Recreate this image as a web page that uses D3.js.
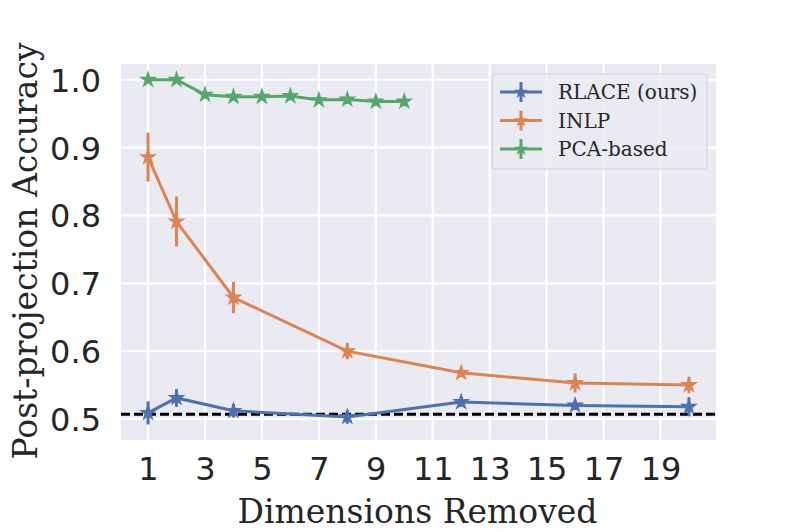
<!DOCTYPE html>
<html>
<head>
<meta charset="utf-8">
<script src="https://cdn.jsdelivr.net/npm/d3@7"></script>
<style>
  body { margin: 0; background: #fff; }
  .tick text { font-family: "DejaVu Sans", sans-serif; }
</style>
</head>
<body>
<div id="chart"></div>
<script>
// data
var seriesNames = ["RLACE (ours)", "INLP", "PCA-based"];
var seriesColors = ["#4C72B0", "#DD8452", "#55A868"];

var rlaceX = [1, 2, 4, 8, 12, 16, 20];
var rlaceY = [0.509, 0.531, 0.512, 0.503, 0.525, 0.520, 0.518];
var rlaceErr = [0.017, 0.013, 0.010, 0.010, 0.007, 0.006, 0.014];

var inlpX = [1, 2, 4, 8, 12, 16, 20];
var inlpY = [0.886, 0.791, 0.679, 0.600, 0.568, 0.553, 0.550];
var inlpErr = [0.036, 0.037, 0.023, 0.012, 0.006, 0.014, 0.012];

var pcaX = [1, 2, 3, 4, 5, 6, 7, 8, 9, 10];
var pcaY = [1.000, 1.000, 0.978, 0.975, 0.975, 0.976, 0.970, 0.971, 0.968, 0.968];
var pcaErr = [0.002, 0.002, 0.002, 0.002, 0.002, 0.002, 0.002, 0.002, 0.002, 0.002];

var baseline = 0.507;

var xTicks = [1, 3, 5, 7, 9, 11, 13, 15, 17, 19];
var yTicks = [0.5, 0.6, 0.7, 0.8, 0.9, 1.0];

var svgWidth = 797;
var svgHeight = 532;

var margin = { top: 64, right: 81, bottom: 92, left: 121 };
var width = svgWidth - margin.left - margin.right;
var height = svgHeight - margin.top - margin.bottom;

var svg = d3.select("#chart")
    .append("svg")
    .attr("width", svgWidth)
    .attr("height", svgHeight);

var chartGroup = svg.append("g")
    .attr("transform", `translate(${margin.left}, ${margin.top})`);

var xScale = d3.scaleLinear()
    .domain([0.05, 20.95])
    .range([0, width]);

var yScale = d3.scaleLinear()
    .domain([0.469, 1.0232])
    .range([height, 0]);

// background
chartGroup.append("rect")
    .attr("width", width)
    .attr("height", height)
    .attr("fill", "#EAEAF2");

// grid
chartGroup.selectAll(".vgrid")
    .data(xTicks)
    .enter()
    .append("line")
    .attr("x1", d => xScale(d))
    .attr("x2", d => xScale(d))
    .attr("y1", 0)
    .attr("y2", height)
    .attr("stroke", "#fff")
    .attr("stroke-width", 2.2);

chartGroup.selectAll(".hgrid")
    .data(yTicks)
    .enter()
    .append("line")
    .attr("x1", 0)
    .attr("x2", width)
    .attr("y1", d => yScale(d))
    .attr("y2", d => yScale(d))
    .attr("stroke", "#fff")
    .attr("stroke-width", 2.2);

// axes (no lines, just labels)
var xAxis = d3.axisBottom(xScale).tickValues(xTicks).tickSize(0).tickPadding(17);
var yAxis = d3.axisLeft(yScale).tickValues(yTicks).tickFormat(d3.format(".1f")).tickSize(0).tickPadding(20);

var xg = chartGroup.append("g")
    .attr("transform", `translate(0, ${height})`)
    .call(xAxis);
var yg = chartGroup.append("g")
    .call(yAxis);

[xg, yg].forEach(function (g) {
    g.select(".domain").remove();
    g.selectAll("text")
        .attr("font-size", 32)
        .attr("fill", "#262626");
});
yg.selectAll("text").attr("dy", "0.36em");

// baseline
chartGroup.append("line")
    .attr("x1", 0)
    .attr("x2", width)
    .attr("y1", yScale(baseline))
    .attr("y2", yScale(baseline))
    .attr("stroke", "#000")
    .attr("stroke-width", 3)
    .attr("stroke-dasharray", "9,4");

var series = [
    { x: rlaceX, y: rlaceY, e: rlaceErr },
    { x: inlpX, y: inlpY, e: inlpErr },
    { x: pcaX, y: pcaY, e: pcaErr }
];

var line = d3.line()
    .x(d => xScale(d.x))
    .y(d => yScale(d.y));

var star = d3.symbol().type(d3.symbolStar).size(64);

series.forEach(function (s, i) {
    var pts = s.x.map((x, j) => ({ x: x, y: s.y[j], e: s.e[j] }));
    var g = chartGroup.append("g");
    g.append("path")
        .datum(pts)
        .attr("d", line)
        .attr("fill", "none")
        .attr("stroke", seriesColors[i])
        .attr("stroke-width", 3);
    g.selectAll(".err")
        .data(pts)
        .enter()
        .append("line")
        .attr("x1", d => xScale(d.x))
        .attr("x2", d => xScale(d.x))
        .attr("y1", d => yScale(d.y - d.e))
        .attr("y2", d => yScale(d.y + d.e))
        .attr("stroke", seriesColors[i])
        .attr("stroke-width", 3);
    g.selectAll(".mk")
        .data(pts)
        .enter()
        .append("path")
        .attr("d", star)
        .attr("transform", d => `translate(${xScale(d.x)}, ${yScale(d.y)})`)
        .attr("fill", seriesColors[i])
        .attr("stroke", seriesColors[i])
        .attr("stroke-width", 1.2);
});

// legend
var legend = svg.append("g").attr("transform", "translate(492, 74)");
legend.append("rect")
    .attr("width", 215)
    .attr("height", 95)
    .attr("rx", 4)
    .attr("fill", "#EAEAF2")
    .attr("fill-opacity", 0.8)
    .attr("stroke", "#d0d0d8")
    .attr("stroke-width", 1.2);

seriesNames.forEach(function (name, i) {
    var ly = 18 + i * 28.5;
    var item = legend.append("g").attr("transform", `translate(0, ${ly})`);
    item.append("line")
        .attr("x1", 8).attr("x2", 50)
        .attr("stroke", seriesColors[i]).attr("stroke-width", 3);
    item.append("line")
        .attr("x1", 29).attr("x2", 29)
        .attr("y1", -10).attr("y2", 10)
        .attr("stroke", seriesColors[i]).attr("stroke-width", 3);
    item.append("path")
        .attr("d", star)
        .attr("transform", "translate(29, 0)")
        .attr("fill", seriesColors[i]);
    item.append("text")
        .attr("x", 66)
        .attr("y", 0)
        .attr("dy", "0.35em")
        .attr("font-family", "DejaVu Serif, serif")
        .attr("font-size", 20)
        .attr("fill", "#262626")
        .text(name);
});

// axis titles
svg.append("text")
    .attr("transform", `translate(${margin.left + width / 2 - 1}, 523)`)
    .attr("text-anchor", "middle")
    .attr("font-family", "DejaVu Serif, serif")
    .attr("font-size", 33)
    .attr("fill", "#262626")
    .text("Dimensions Removed");

svg.append("text")
    .attr("transform", `translate(37, ${margin.top + height / 2 - 1}) rotate(-90)`)
    .attr("text-anchor", "middle")
    .attr("font-family", "DejaVu Serif, serif")
    .attr("font-size", 33)
    .attr("fill", "#262626")
    .text("Post-projection Accuracy");
</script>
</body>
</html>
